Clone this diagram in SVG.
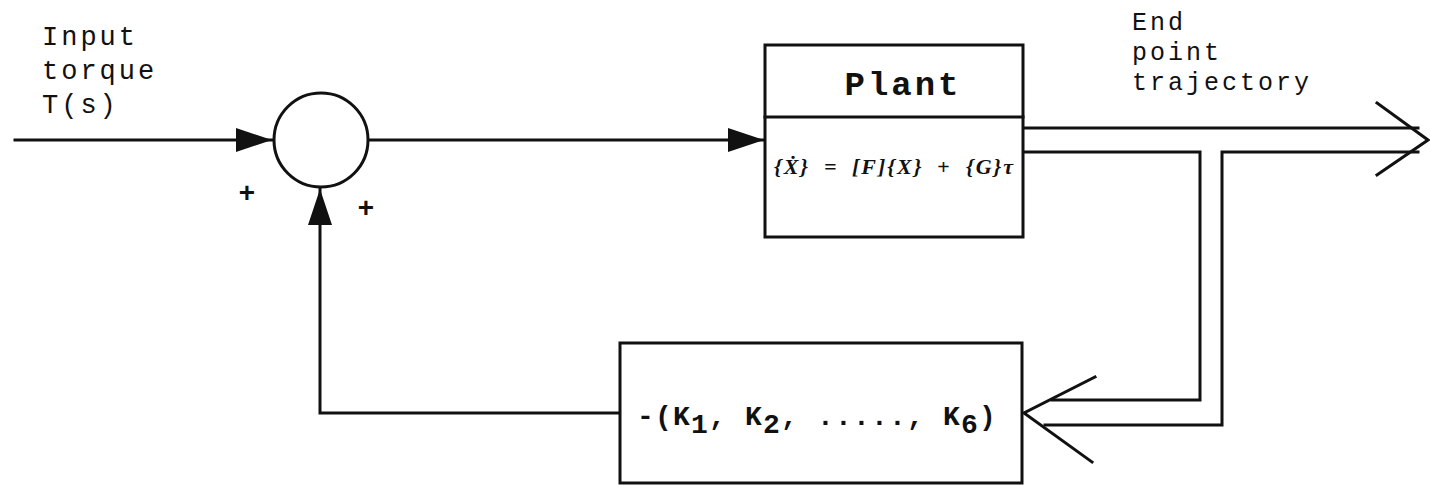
<svg xmlns="http://www.w3.org/2000/svg" width="1430" height="485" viewBox="0 0 1430 485">
<style>
.ln{fill:none;stroke:#111;stroke-width:3;stroke-linejoin:miter;stroke-linecap:square}
.box{fill:#fff;stroke:#111;stroke-width:3}
.lbl{font-family:"Liberation Mono","Courier New",monospace;font-size:27px;fill:#111;letter-spacing:3px}
.bold{font-family:"Liberation Mono","Courier New",monospace;font-weight:bold;fill:#111}
.eq{font-family:"Liberation Serif","Times New Roman",serif;font-style:italic;font-weight:bold;font-size:22px;letter-spacing:2px;fill:#111}
</style>
<defs>
<marker id="solid" viewBox="0 0 36 24" refX="36" refY="12" markerWidth="36" markerHeight="24" markerUnits="userSpaceOnUse" orient="auto">
<path d="M0,0 L36,12 L0,24 Z" fill="#111"/>
</marker>
</defs>
<rect width="1430" height="485" fill="#fff"/>

<g id="labels">
<text class="lbl" x="42" y="45">Input</text>
<text class="lbl" x="42" y="79">torque</text>
<text class="lbl" x="42" y="113">T(s)</text>
<text class="lbl" x="1132" y="30" style="font-size:25px">End</text>
<text class="lbl" x="1132" y="60" style="font-size:25px">point</text>
<text class="lbl" x="1132" y="90" style="font-size:25px">trajectory</text>
</g>

<g id="connectors">
<line class="ln" x1="15" y1="140" x2="272" y2="140" marker-end="url(#solid)"/>
<line class="ln" x1="368" y1="140" x2="764" y2="140" marker-end="url(#solid)"/>
<polyline class="ln" points="620,413 320,413 320,189" marker-end="url(#solid)"/>
<line class="ln" x1="1023" y1="128" x2="1418" y2="128"/>
<polyline class="ln" points="1023,152 1200,152 1200,400 1052,400"/>
<polyline class="ln" points="1418,152 1222,152 1222,425 1045,425"/>
<polyline class="ln" points="1377,103 1428,140 1377,175"/>
<polyline class="ln" points="1095,377 1024,413 1092,462"/>
</g>

<g id="sum">
<circle cx="321" cy="140" r="47" fill="#fff" stroke="#111" stroke-width="3"/>
<text class="bold" x="247" y="202" font-size="28" text-anchor="middle">+</text>
<text class="bold" x="366" y="217" font-size="28" text-anchor="middle">+</text>
</g>

<g id="plant">
<rect class="box" x="765" y="45" width="258" height="192"/>
<line class="ln" x1="765" y1="117" x2="1023" y2="117"/>
<text class="bold" x="903" y="95" font-size="34" text-anchor="middle" letter-spacing="3">Plant</text>
<text class="eq" y="174"><tspan x="774">{Ẋ}</tspan><tspan x="824">=</tspan><tspan x="852">[F]{X}</tspan><tspan x="937">+</tspan><tspan x="966">{G}τ</tspan></text>
</g>

<g id="gain">
<rect class="box" x="620" y="343" width="402" height="140"/>
<text class="bold" x="637" y="425" font-size="28" letter-spacing="1.2">-(K<tspan dy="8">1</tspan><tspan dy="-8">, K</tspan><tspan dy="8">2</tspan><tspan dy="-8">, ....., K</tspan><tspan dy="8">6</tspan><tspan dy="-8">)</tspan></text>
</g>
</svg>
